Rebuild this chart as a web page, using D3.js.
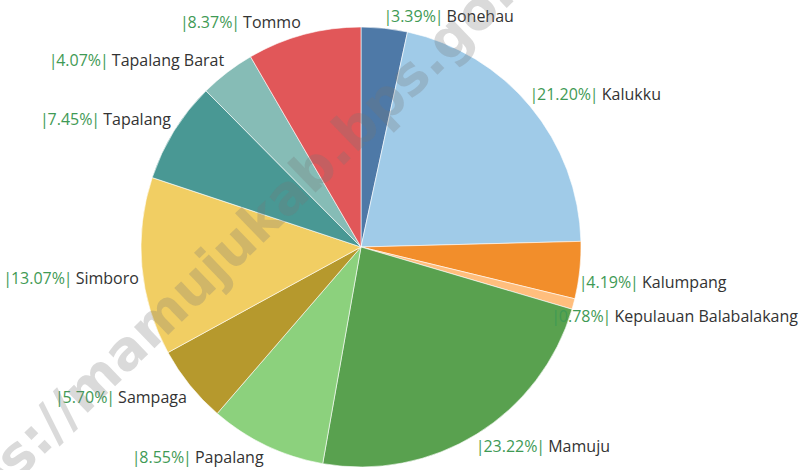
<!DOCTYPE html>
<html>
<head>
<meta charset="utf-8">
<script src="https://cdn.jsdelivr.net/npm/d3@7"></script>
<style>
  html, body { margin: 0; padding: 0; background: #fff; }
  svg { display: block; }
</style>
</head>
<body>
<svg id="chart" width="805" height="470"></svg>
<script>
const categories = ["Bonehau", "Kalukku", "Kalumpang", "Kepulauan Balabalakang", "Mamuju", "Papalang", "Sampaga", "Simboro", "Tapalang", "Tapalang Barat", "Tommo"];
const shares = [3.39, 21.20, 4.19, 0.78, 23.22, 8.55, 5.70, 13.07, 7.45, 4.07, 8.37];
const colors = ["#4e79a7", "#a0cbe8", "#f28e2b", "#ffbe7d", "#59a14f", "#8cd17d", "#b6992d", "#f1ce63", "#499894", "#86bcb6", "#e15759"];
const watermark = "https://mamujukab.bps.go.id";

const W = 805, H = 470;
const cx = 361, cy = 247, R = 220;
const svg = d3.select("#chart");
const fontFam = "'Open Sans', 'Noto Sans', sans-serif";
const pctColor = "#3f9a55";

const data = categories.map((c, i) => ({ name: c, value: shares[i], color: colors[i] }));
const pie = d3.pie().value(d => d.value).sort(null);
const arcs = pie(data);
const arc = d3.arc().innerRadius(0).outerRadius(R);

const g = svg.append("g").attr("transform", `translate(${cx},${cy})`);
g.selectAll("path").data(arcs).join("path")
  .attr("d", arc)
  .attr("fill", d => d.data.color)
  .attr("stroke", "#fff")
  .attr("stroke-width", 0.6);

// labels
const labels = svg.append("g");
arcs.forEach(a => {
  const mid = (a.startAngle + a.endAngle) / 2;
  const px = cx + R * Math.sin(mid);
  const py = cy - R * Math.cos(mid);
  const right = Math.sin(mid) >= 0;
  const upper = Math.cos(mid) > 0;
  const ty = py + (upper ? -12 : 12);
  const t = labels.append("text")
    .attr("y", ty)
    .attr("dy", "0.35em")
    .style("font-family", fontFam)
    .style("font-size", "16px");
  t.append("tspan").attr("fill", pctColor).text("|");
  t.append("tspan").attr("fill", pctColor).attr("dx", -1.2).text(`${a.data.value.toFixed(2)}%`);
  t.append("tspan").attr("fill", pctColor).attr("dx", -1.2).text("|");
  t.append("tspan").attr("fill", "#333").attr("dx", -1).text(" " + a.data.name);
  const w = t.node().getComputedTextLength() - 3.4;
  let x = right ? px + 1 : px - 1 - w;
  x = Math.max(4, Math.min(x, W - 5 - w));
  t.attr("x", x - 2);
});

// watermark
const S = 54;
const wm = svg.append("text")
  .style("font-family", "'DejaVu Sans', sans-serif")
  .style("font-weight", "bold")
  .style("font-size", S + "px")
  .attr("fill", "#777")
  .attr("fill-opacity", 0.27)
  .text(watermark);
const dotIdx = watermark.indexOf(".");
const sx = wm.node().getStartPositionOfChar(dotIdx).x;
const ex = wm.node().getEndPositionOfChar(dotIdx).x;
wm.attr("transform", `translate(343,157) rotate(-44) translate(${-(sx + ex) / 2},${0.12 * S})`);
</script>
</body>
</html>
